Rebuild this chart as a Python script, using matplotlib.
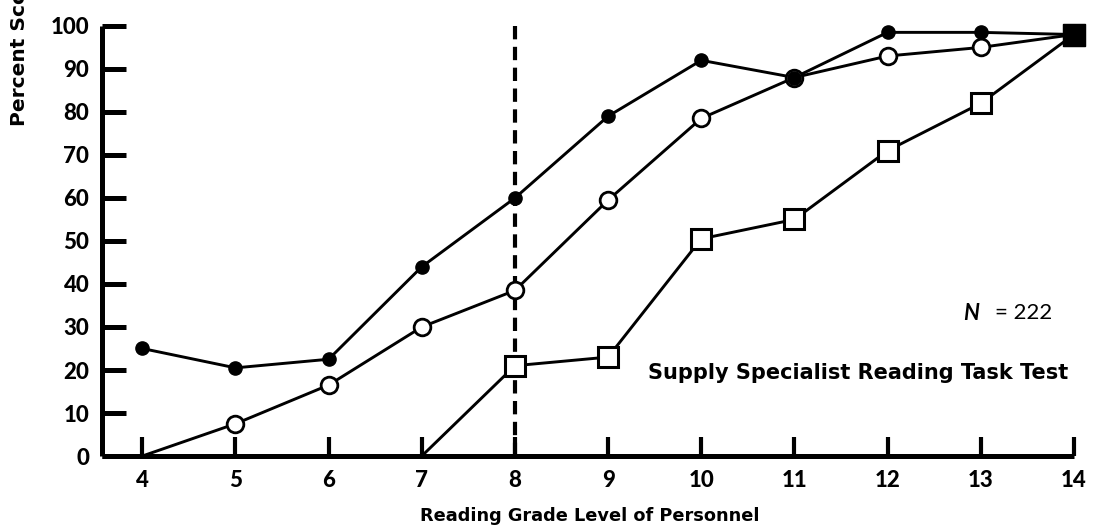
import numpy as np
import matplotlib
matplotlib.use("Agg")
import matplotlib.pyplot as plt

plt.rcParams["font.family"] = ["Lato", "DejaVu Sans"]
plt.rcParams["font.weight"] = "bold"

# data
grades = [4, 5, 6, 7, 8, 9, 10, 11, 12, 13, 14]
filled_pct = [25, 20.5, 22.5, 44, 60, 79, 92, 88, 98.5, 98.5, 98]
open_pct = [0, 7.5, 16.5, 30, 38.5, 59.5, 78.5, 88, 93, 95, 98]
square_grades = [7, 8, 9, 10, 11, 12, 13, 14]
square_pct = [0, 21, 23, 50.5, 55, 71, 82, 98]
cutoff_grade = 8

yticks = [0, 10, 20, 30, 40, 50, 60, 70, 80, 90, 100]

fig = plt.figure(figsize=(10.96, 5.31), dpi=100)
ax = fig.add_axes([0.0928, 0.1412, 0.887, 0.81])

g = np.array(grades)
f = np.array(filled_pct)
o = np.array(open_pct)
sg = np.array(square_grades)
s = np.array(square_pct)

# cutoff line
ax.plot([cutoff_grade, cutoff_grade], [0, 100], color="black", lw=3,
        linestyle=(0, (3.2, 1.8)), dash_capstyle="butt", zorder=1)

# lines
ax.plot(g, f, color="black", lw=2.1, zorder=2, clip_on=False)
ax.plot(g, o, color="black", lw=2.1, zorder=2, clip_on=False)
ax.plot(sg, s, color="black", lw=2.1, zorder=2, clip_on=False)

# markers (no marker where a line starts on the baseline)
m = o > 0
ax.plot(g[m], o[m], "o", ms=12, mfc="white", mec="black", mew=2,
        zorder=3, clip_on=False)
ax.plot(g, f, "o", ms=9.5, color="black", zorder=4, clip_on=False)
ms_ = s > 0
ax.plot(sg[ms_], s[ms_], "s", ms=14, mfc="white", mec="black", mew=2.2,
        zorder=3, clip_on=False)

# points where series coincide are filled in
both = np.isclose(f, o) & ~np.isin(g, sg)
ax.plot(g[both], f[both], "o", ms=15, color="black", zorder=5, clip_on=False)
last = np.isin(g, sg) & np.isclose(f, np.interp(g, sg, s))
ax.plot(g[last], f[last], "s", ms=16, color="black", zorder=5, clip_on=False)

ax.set_xlim(3.564, 14)
ax.set_ylim(0, 100)
ax.set_xticks(grades)
ax.set_yticks(yticks)
ax.tick_params(axis="y", direction="in", length=17, width=3.6, pad=9,
               labelsize=16)
ax.tick_params(axis="x", direction="in", length=14, width=3, pad=10,
               labelsize=16)
for lab in ax.get_xticklabels() + ax.get_yticklabels():
    lab.set_fontweight("black")
for sp in ["top", "right"]:
    ax.spines[sp].set_visible(False)
for sp in ["left", "bottom"]:
    ax.spines[sp].set_linewidth(3.6)
    ax.spines[sp].set_capstyle("butt")

fig.text(590 / 1096, 1 - 516 / 531, "Reading Grade Level of Personnel",
         ha="center", va="center", fontsize=12.8, fontweight="bold",
         family="DejaVu Sans")
# label runs off the top edge, as in the original scan
fig.text(20 / 1096, 1 - 126 / 531, "Percent Score", rotation=90,
         ha="center", va="bottom", fontsize=14.5, fontweight="bold",
         family="DejaVu Sans")

fig.text(963 / 1096, 1 - 313 / 531, "N", ha="left", va="center",
         fontsize=16, style="italic", fontweight="bold")
fig.text(1052 / 1096, 1 - 313 / 531, "= 222", ha="right", va="center",
         fontsize=16, fontweight="normal")
fig.text(648 / 1096, 1 - 373 / 531, "Supply Specialist Reading Task Test",
         ha="left", va="center", fontsize=15, fontweight="bold",
         family="DejaVu Sans")

fig.savefig("out.png", dpi=100)
